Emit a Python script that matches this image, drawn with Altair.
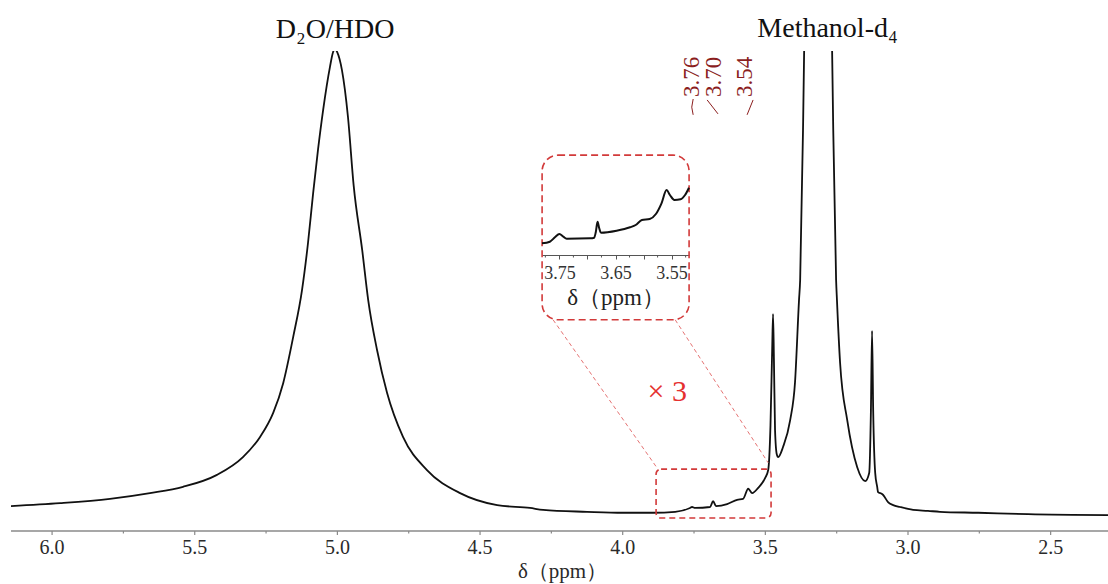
import altair as alt
import pandas as pd

# ---------------- data ----------------
spec_ppm = [6.144, 5.972, 5.797, 5.657, 5.541, 5.422, 5.331, 5.271, 5.225, 5.190,
            5.155, 5.124, 5.103, 5.085, 5.068, 5.050, 5.026, 5.015, 5.008, 5.001,
            4.984, 4.963, 4.943, 4.913, 4.892, 4.861, 4.826, 4.770, 4.686,
            4.570, 4.440, 4.325, 4.279, 4.125, 4.000, 3.893, 3.816, 3.764, 3.757,
            3.746, 3.694, 3.683, 3.673, 3.634, 3.599, 3.578, 3.560, 3.546, 3.525,
            3.501, 3.490, 3.482, 3.476, 3.473, 3.470, 3.466, 3.460, 3.455, 3.438,
            3.413, 3.396, 3.382, 3.378, 3.368, 3.364, 3.355, 3.330, 3.300, 3.275,
            3.266, 3.262, 3.252, 3.249, 3.238, 3.213, 3.178, 3.150, 3.136, 3.130,
            3.126, 3.122, 3.115, 3.108, 3.105, 3.091, 3.087, 3.070, 3.052, 3.028,
            2.982, 2.930, 2.888, 2.754, 2.579, 2.299]
spec_int = [5.2, 5.8, 6.7, 7.9, 9.2, 11.7, 15.4, 19.6, 24.6, 30.8,
            40.4, 50.2, 60.0, 70.4, 79.4, 87.7, 96.7, 99.8, 100.4, 99.8,
            96.0, 86.3, 72.0, 58.5, 48.1, 37.7, 28.8, 19.6, 12.7,
            7.9, 5.4, 4.8, 4.4, 4.0, 3.8, 3.8, 4.0, 4.8, 5.0,
            4.8, 5.0, 6.2, 5.2, 5.6, 6.5, 6.7, 8.8, 7.9, 9.0,
            11.0, 12.7, 22.0, 38.0, 45.2, 36.0, 21.0, 16.0, 15.4, 17.5,
            23.1, 31.0, 48.1, 52.3, 83.5, 100.2, 160.0, 230.0, 230.0, 160.0,
            100.2, 83.5, 52.3, 48.1, 35.0, 23.1, 13.3, 10.4, 12.1, 25.0,
            41.7, 25.0, 12.1, 9.2, 8.1, 7.7, 7.5, 6.0, 5.4, 5.0,
            4.4, 4.2, 4.0, 3.8, 3.5, 3.3]

inset_ppm = [3.781, 3.767, 3.758, 3.750, 3.743, 3.737, 3.695, 3.688, 3.685, 3.682,
             3.679, 3.676, 3.648, 3.624, 3.614, 3.603, 3.589, 3.578, 3.568, 3.559,
             3.553, 3.545, 3.534, 3.526, 3.519]
inset_int = [11.7, 13.3, 17.7, 21.0, 18.3, 16.3, 16.7, 17.3, 23.3, 33.3,
             26.7, 22.3, 24.3, 27.7, 30.0, 35.0, 36.0, 41.0, 51.7, 65.0,
             60.0, 55.0, 55.7, 60.0, 67.3]

major_ticks = [6.0, 5.5, 5.0, 4.5, 4.0, 3.5, 3.0, 2.5]
major_labels = ["6.0", "5.5", "5.0", "4.5", "4.0", "3.5", "3.0", "2.5"]
minor_ticks = [5.75, 5.25, 4.75, 4.25, 3.75, 3.25, 2.75]
inset_major = [3.75, 3.70, 3.65, 3.60, 3.55]
inset_minor = [3.775, 3.725, 3.675, 3.625, 3.575, 3.525]
x_title = "δ（ppm）"

title_text = ["D₂O/HDO", "Methanol-d₄"]
title_ppm = [5.008, 3.282]
title_int = [102.7, 102.9]

peak_labels = ["3.76", "3.70", "3.54"]
peak_label_ppm = [3.757, 3.680, 3.571]
peak_label_int = [90.4, 90.4, 90.4]

conn_id = [0, 0, 0, 1, 1, 2, 2]
conn_ppm = [3.753, 3.758, 3.753, 3.704, 3.666, 3.543, 3.564]
conn_int = [90.0, 88.3, 86.7, 89.8, 86.9, 89.8, 86.7]

zoom_ppm = [3.883, 3.480]
zoom_int = [2.7, 12.9]
frame_ppm = [4.2825, 3.7673]
frame_int = [44.0, 78.3]
link_ppm_a = [4.244, 3.816]
link_int_a = [44.0, 44.0]
link_ppm_b = [3.879, 3.490]
link_int_b = [13.1, 14.2]

times_ppm = [3.844]
times_int = [29.0]

# ---------------- layout constants ----------------
W, H = 1097, 480
SERIF = "Liberation Serif"
RED = "#d23a3a"
AXIS_GRAY = "#8a8a8a"
TEXT_DARK = "#2a2a2a"

MAIN_X_SCALE = alt.Scale(domain=[2.299, 6.144], reverse=True, zero=False, nice=False)
MAIN_Y_SCALE = alt.Scale(domain=[0, 100], zero=False, nice=False)


def mx():
    return alt.X("ppm:Q", scale=MAIN_X_SCALE, axis=None)


def my():
    return alt.Y("I:Q", scale=MAIN_Y_SCALE, axis=None)


spec_df = pd.DataFrame({"ppm": spec_ppm, "I": spec_int, "idx": range(len(spec_ppm))})
inset_df = pd.DataFrame({"ppm": inset_ppm, "I": inset_int, "idx": range(len(inset_ppm))})

spectrum = alt.Chart(spec_df).mark_line(
    color="#111111", strokeWidth=1.8, clip=True, interpolate="monotone"
).encode(x=mx(), y=my(), order="idx:Q")

# hand-built bottom axis (domain line, ticks, labels, title)
axis_line = alt.Chart(pd.DataFrame({"ppm": [0]})).mark_rule(
    color=AXIS_GRAY, strokeWidth=1.5
).encode(x=alt.value(0), x2=alt.value(W), y=alt.value(H))

major = alt.Chart(pd.DataFrame({"ppm": major_ticks})).mark_rule(
    color=AXIS_GRAY, strokeWidth=1.2
).encode(x=mx(), y=alt.value(H), y2=alt.value(H + 4))

minor = alt.Chart(pd.DataFrame({"ppm": minor_ticks})).mark_rule(
    color=AXIS_GRAY, strokeWidth=1.2
).encode(x=mx(), y=alt.value(H), y2=alt.value(H + 2.5))

tick_text = alt.Chart(pd.DataFrame({"ppm": major_ticks, "t": major_labels})).mark_text(
    font=SERIF, fontSize=20, color=TEXT_DARK, baseline="alphabetic", align="center"
).encode(x=mx(), y=alt.value(H + 23), text="t:N")

axis_title = alt.Chart(pd.DataFrame({"t": [x_title]})).mark_text(
    font=SERIF, fontSize=21, color=TEXT_DARK, baseline="alphabetic", align="center"
).encode(x=alt.value(W / 2 + 3), y=alt.value(H + 47), text="t:N")

zoom_box = alt.Chart(pd.DataFrame({"ppm": [zoom_ppm[0]], "x2": [zoom_ppm[1]],
                                   "I": [zoom_int[0]], "y2": [zoom_int[1]]})).mark_rect(
    fillOpacity=0, stroke=RED, strokeWidth=1.6, strokeDash=[6, 4], cornerRadius=5
).encode(x=mx(), x2="x2:Q", y=my(), y2="y2:Q")

frame = alt.Chart(pd.DataFrame({"ppm": [frame_ppm[0]], "x2": [frame_ppm[1]],
                                "I": [frame_int[0]], "y2": [frame_int[1]]})).mark_rect(
    fillOpacity=0, stroke=RED, strokeWidth=1.6, strokeDash=[7, 4], cornerRadius=16
).encode(x=mx(), x2="x2:Q", y=my(), y2="y2:Q")

links = alt.Chart(pd.DataFrame({"ppm": link_ppm_a, "I": link_int_a,
                                "xb": link_ppm_b, "yb": link_int_b})).mark_rule(
    color="#e57373", strokeWidth=1, strokeDash=[4, 3]
).encode(x=mx(), x2="xb:Q", y=my(), y2="yb:Q")

times = alt.Chart(pd.DataFrame({"ppm": times_ppm, "I": times_int, "t": ["× 3"]})).mark_text(
    font=SERIF, fontSize=30, color="#e53030", baseline="middle", align="center"
).encode(x=mx(), y=my(), text="t:N")

titles = alt.Chart(pd.DataFrame({"ppm": title_ppm, "I": title_int, "t": title_text})).mark_text(
    font=SERIF, fontSize=28, color="#111111", baseline="alphabetic", align="center"
).encode(x=mx(), y=my(), text="t:N")

plabels = alt.Chart(pd.DataFrame({"ppm": peak_label_ppm, "I": peak_label_int, "t": peak_labels})).mark_text(
    font=SERIF, fontSize=23, color="#8b1e1e", angle=270, align="left", baseline="middle"
).encode(x=mx(), y=my(), text="t:N")

pconn = alt.Chart(pd.DataFrame({"id": conn_id, "ppm": conn_ppm, "I": conn_int,
                                "o": range(len(conn_id))})).mark_line(
    color="#8b1e1e", strokeWidth=1
).encode(x=mx(), y=my(), detail="id:N", order="o:Q")

main = alt.layer(spectrum, axis_line, major, minor, tick_text, axis_title,
                 zoom_box, frame, links, times, titles, plabels, pconn)

# ---------------- inset ----------------
INSET_X_RANGE = [531, 678]
INSET_Y_RANGE = [204, 104]

inset_axis = alt.Axis(
    orient="bottom", offset=-(H - INSET_Y_RANGE[0]), values=inset_major,
    labelExpr="(abs(datum.value-3.7)<0.001 || abs(datum.value-3.6)<0.001) ? '' : format(datum.value, '.2f')",
    tickSize=4, tickColor="#555555", domainColor="#555555", domainWidth=1, tickWidth=1,
    labelFont=SERIF, labelFontSize=18, labelColor="#333333", labelPadding=5,
    labelOverlap=False, labelFlush=False,
    title=x_title, titleFont=SERIF, titleFontSize=23, titleFontWeight="normal",
    titleColor="#222222", titleBaseline="alphabetic", titleY=49, grid=False,
)
INSET_X_SCALE = alt.Scale(domain=[3.519, 3.781], reverse=True, zero=False, nice=False, range=INSET_X_RANGE)
INSET_Y_SCALE = alt.Scale(domain=[0, 100], zero=False, nice=False, range=INSET_Y_RANGE)


def ix(with_axis=False):
    if with_axis:
        return alt.X("ppm:Q", scale=INSET_X_SCALE, axis=inset_axis)
    return alt.X("ppm:Q", scale=INSET_X_SCALE, axis=None)


def iy():
    return alt.Y("I:Q", scale=INSET_Y_SCALE, axis=None)


inset_line = alt.Chart(inset_df).mark_line(
    color="#111111", strokeWidth=2, interpolate="monotone"
).encode(x=ix(True), y=iy(), order="idx:Q")

inset_minor_ticks = alt.Chart(pd.DataFrame({"ppm": inset_minor})).mark_rule(
    color="#555555", strokeWidth=1
).encode(x=ix(), y=alt.value(INSET_Y_RANGE[0]), y2=alt.value(INSET_Y_RANGE[0] + 2.5))

inset = alt.layer(inset_line, inset_minor_ticks).resolve_axis(x="independent", y="independent")

chart = alt.layer(main, inset).resolve_scale(x="independent", y="independent").properties(
    width=W, height=H,
    padding={"left": 11, "top": 51, "right": 0, "bottom": 53},
    autosize=alt.AutoSizeParams(type="none"),
    background="white",
).configure_view(strokeWidth=0).configure_axis(
    labelFont=SERIF, titleFont=SERIF
)

chart.save("out.html", embed_options={"renderer": "svg", "actions": False})
